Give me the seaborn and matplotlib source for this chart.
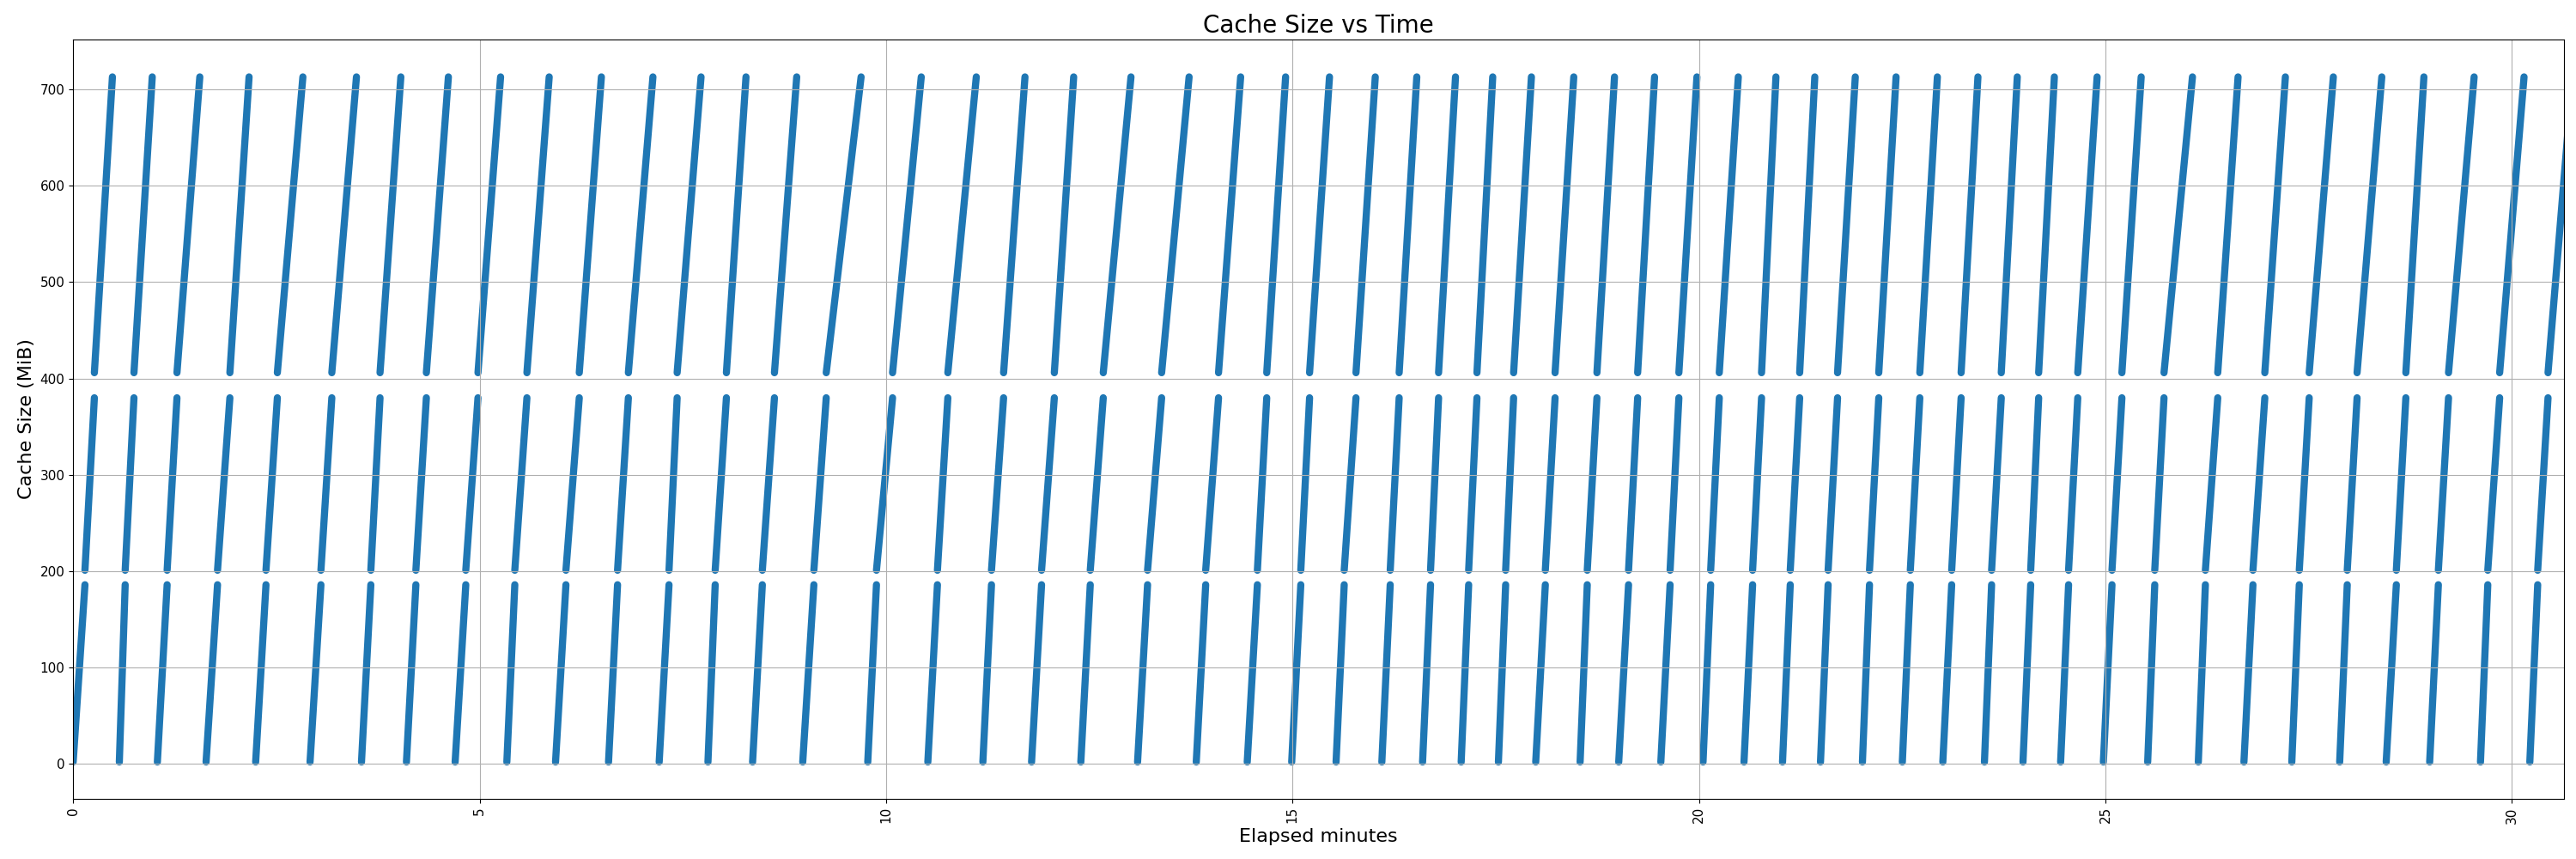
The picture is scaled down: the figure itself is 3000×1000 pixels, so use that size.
import matplotlib
matplotlib.use("Agg")
import matplotlib.pyplot as plt
import seaborn as sns
import pandas as pd

# 每個循環的時間點 (分鐘)
# low: 0 -> ~188 MiB, mid: ~200 -> ~383 MiB, high: ~405 -> ~716 MiB
low_start = [0.0, 0.568, 1.036, 1.635, 2.245, 2.914, 3.547, 4.100, 4.699, 5.335,
             5.934, 6.586, 7.209, 7.809, 8.358, 8.975, 9.775, 10.514, 11.191, 11.790,
             12.396, 13.094, 13.816, 14.443, 14.990, 15.536, 16.099, 16.600, 17.075, 17.533,
             17.992, 18.538, 19.013, 19.531, 20.050, 20.554, 21.028, 21.495, 22.011, 22.502,
             23.000, 23.512, 23.986, 24.449, 24.975, 25.520, 26.143, 26.704, 27.293, 27.882,
             28.454, 28.989, 29.614, 30.221]
mid_start = [0.145, 0.640, 1.156, 1.776, 2.372, 3.048, 3.662, 4.216, 4.830, 5.433,
             6.062, 6.697, 7.330, 7.898, 8.478, 9.112, 9.882, 10.632, 11.297, 11.913,
             12.512, 13.217, 13.932, 14.568, 15.102, 15.636, 16.202, 16.698, 17.167, 17.622,
             18.110, 18.626, 19.134, 19.645, 20.144, 20.660, 21.123, 21.589, 22.098, 22.600,
             23.109, 23.600, 24.081, 24.547, 25.081, 25.607, 26.230, 26.815, 27.385, 27.975,
             28.579, 29.096, 29.704, 30.318]
high_start = [0.261, 0.748, 1.277, 1.928, 2.512, 3.182, 3.775, 4.345, 4.980, 5.582,
              6.226, 6.830, 7.430, 8.036, 8.627, 9.264, 10.080, 10.760, 11.446, 12.070,
              12.672, 13.390, 14.090, 14.683, 15.210, 15.781, 16.312, 16.797, 17.269, 17.720,
              18.230, 18.745, 19.246, 19.753, 20.250, 20.770, 21.239, 21.705, 22.212, 22.717,
              23.225, 23.719, 24.179, 24.660, 25.203, 25.721, 26.382, 26.961, 27.507, 28.096,
              28.696, 29.221, 29.850, 30.445]
high_end = [0.483, 0.973, 1.558, 2.164, 2.826, 3.485, 4.031, 4.616, 5.258, 5.856,
            6.498, 7.132, 7.724, 8.277, 8.901, 9.693, 10.433, 11.110, 11.709, 12.308,
            13.013, 13.728, 14.362, 14.915, 15.455, 16.018, 16.529, 17.005, 17.463, 17.939,
            18.460, 18.961, 19.454, 19.975, 20.484, 20.947, 21.425, 21.923, 22.425, 22.933,
            23.432, 23.916, 24.372, 24.898, 25.440, 26.071, 26.632, 27.214, 27.804, 28.400,
            28.918, 29.536, 30.150, 30.745]

low_mib = (2, 186)
mid_mib = (201, 380)
high_mib = (406, 713)

assert len(low_start) == len(mid_start) == len(high_start) == len(high_end)

rows = []
for i, (t0, t1, t2, t3) in enumerate(zip(low_start, mid_start, high_start, high_end)):
    rows.append((f"{i}_low", t0, low_mib[0]))
    rows.append((f"{i}_low", t1, low_mib[1]))
    rows.append((f"{i}_mid", t1, mid_mib[0]))
    rows.append((f"{i}_mid", t2, mid_mib[1]))
    rows.append((f"{i}_high", t2, high_mib[0]))
    rows.append((f"{i}_high", t3, high_mib[1]))
df = pd.DataFrame(rows, columns=["seg", "minutes", "mib"])

fig, ax = plt.subplots(figsize=(30, 10), dpi=100)
sns.lineplot(data=df, x="minutes", y="mib", units="seg", estimator=None, sort=False,
             color="#1f77b4", lw=6, solid_capstyle="round", zorder=1,
             legend=False, ax=ax)

ax.set_xlim(0, 30.637)
ax.set_ylim(-35.8, 751.8)
ax.set_xticks(range(0, 31, 5))
ax.tick_params(axis="x", labelrotation=90, labelsize=11)
ax.tick_params(axis="y", labelsize=11)
ax.grid(True)
ax.set_title("Cache Size vs Time", fontsize=20)
ax.set_xlabel("Elapsed minutes", fontsize=16)
ax.set_ylabel("Cache Size (MiB)", fontsize=16)

fig.subplots_adjust(left=0.0284, right=0.9952, top=0.954, bottom=0.0705)
fig.savefig("out.png")
